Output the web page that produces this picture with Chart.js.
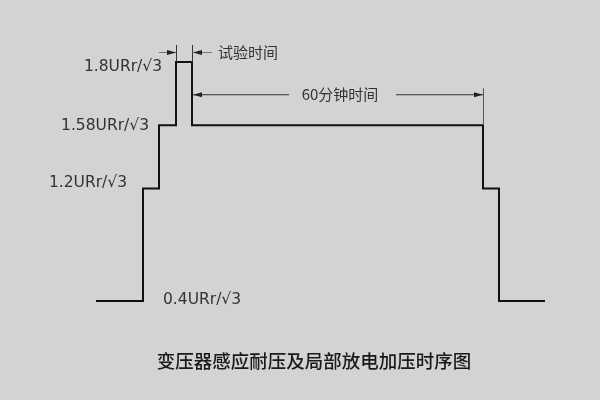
<!DOCTYPE html>
<html>
<head>
<meta charset="utf-8">
<script src="https://cdn.jsdelivr.net/npm/chart.js@4"></script>
<style>
  html, body { margin: 0; padding: 0; background: #d3d3d3; }
  canvas { display: block; }
</style>
</head>
<body>
<canvas id="chart" width="600" height="400"></canvas>
<script>
// 时间轴（示意，单位任意）
const times = [0, 47, 63, 80, 96, 387, 403, 449];
// 各段电压（示意高度，不按比例）
const levels = [0.4, 1.2, 1.65, 2.1, 1.65, 1.2, 0.4, 0.4];
// 电压标注
const levelLabels = ['0.4URr/√3', '1.2URr/√3', '1.58URr/√3', '1.8URr/√3'];
const title = '变压器感应耐压及局部放电加压时序图';
const testLabel = '试验时间';
const holdLabel = '60分钟时间';

const font = '"DejaVu Sans", "Noto Sans CJK SC", sans-serif';
const cjk = '"Noto Sans CJK SC", sans-serif';

function arrow(ctx, x, y, dir) {
  // dir: 1 指向右, -1 指向左
  ctx.beginPath();
  ctx.moveTo(x, y);
  ctx.lineTo(x - dir * 9, y - 2.5);
  ctx.lineTo(x - dir * 9, y + 2.5);
  ctx.closePath();
  ctx.fill();
}

// 标注、尺寸线和标题
const annotatePlugin = {
  id: 'annotate',
  afterDraw(chart) {
    const { ctx, scales } = chart;
    const xs = scales.x, ys = scales.y;
    const px = (i) => xs.getPixelForValue(times[i]);
    const py = (v) => ys.getPixelForValue(v);
    ctx.save();

    // 电压标注
    ctx.fillStyle = '#333';
    ctx.font = '15.5px ' + font;
    ctx.textBaseline = 'middle';
    ctx.textAlign = 'right';
    ctx.fillText(levelLabels[3], px(3) - 14, py(levels[3]) + 5);
    ctx.fillText(levelLabels[2], px(2) - 10, py(levels[2]) + 1);
    ctx.fillText(levelLabels[1], px(1) - 16, py(levels[1]) - 6);
    ctx.textAlign = 'left';
    ctx.fillText(levelLabels[0], px(1) + 20, py(levels[0]) - 1);

    ctx.font = '15px ' + cjk;

    // 试验时间 尺寸线
    const topY = py(levels[3]);
    const dimY1 = topY - 10;
    ctx.strokeStyle = '#333';
    ctx.lineWidth = 1;
    ctx.beginPath();
    ctx.moveTo(px(3) + 0.5, topY - 17);
    ctx.lineTo(px(3) + 0.5, topY);
    ctx.moveTo(px(4) + 0.5, topY - 17);
    ctx.lineTo(px(4) + 0.5, topY);
    ctx.stroke();
    ctx.strokeStyle = '#777';
    ctx.beginPath();
    ctx.moveTo(px(3) - 17, dimY1 + 0.5);
    ctx.lineTo(px(3), dimY1 + 0.5);
    ctx.moveTo(px(4), dimY1 + 0.5);
    ctx.lineTo(px(4) + 20, dimY1 + 0.5);
    ctx.stroke();
    ctx.fillStyle = '#222';
    arrow(ctx, px(3), dimY1 + 0.5, 1);
    arrow(ctx, px(4) + 1, dimY1 + 0.5, -1);
    ctx.fillStyle = '#333';
    ctx.textAlign = 'left';
    ctx.fillText(testLabel, px(4) + 26, dimY1);

    // 60分钟时间 尺寸线
    const dimY2 = py(levels[4]) - 31;
    const x1 = px(4) + 1, x2 = px(5);
    const cx = (x1 + x2) / 2 + 2;
    ctx.strokeStyle = '#555';
    ctx.beginPath();
    ctx.moveTo(x2 + 0.5, dimY2 - 6);
    ctx.lineTo(x2 + 0.5, py(levels[4]));
    ctx.stroke();
    ctx.strokeStyle = '#333';
    ctx.beginPath();
    ctx.moveTo(x1, dimY2 + 0.5);
    ctx.lineTo(cx - 51, dimY2 + 0.5);
    ctx.moveTo(cx + 56, dimY2 + 0.5);
    ctx.lineTo(x2, dimY2 + 0.5);
    ctx.stroke();
    ctx.fillStyle = '#222';
    arrow(ctx, x1, dimY2 + 0.5, -1);
    arrow(ctx, x2, dimY2 + 0.5, 1);
    ctx.fillStyle = '#333';
    ctx.textAlign = 'center';
    ctx.fillText(holdLabel, cx, dimY2);

    // 标题
    ctx.fillStyle = '#1a1a1a';
    ctx.font = '500 18.5px ' + cjk;
    ctx.textAlign = 'center';
    ctx.fillText(title, 314, 361);
    ctx.restore();
  }
};

new Chart(document.getElementById('chart'), {
  type: 'scatter',
  data: {
    datasets: [{
      data: times.map((t, i) => ({ x: t, y: levels[i] })),
      showLine: true,
      stepped: 'before',
      borderColor: '#111',
      borderWidth: 2,
      pointRadius: 0,
      clip: false,
    }],
  },
  options: {
    responsive: false,
    animation: false,
    layout: { padding: { left: 96, right: 55, top: 62, bottom: 99 } },
    scales: {
      x: { type: 'linear', min: 0, max: 449, display: false },
      y: { type: 'linear', min: 0.4, max: 2.1, display: false },
    },
    plugins: {
      legend: { display: false },
      tooltip: { enabled: false },
    },
  },
  plugins: [annotatePlugin],
});
</script>
</body>
</html>
